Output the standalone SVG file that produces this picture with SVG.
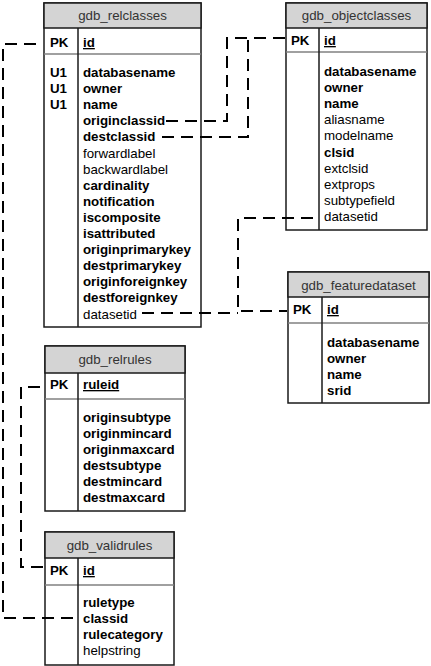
<svg xmlns="http://www.w3.org/2000/svg" width="431" height="666" viewBox="0 0 431 666">
<style>
text{font-family:"Liberation Sans",Arial,sans-serif;font-size:13.3px;fill:#000}
.h{fill:#333;text-anchor:middle}
.b{font-weight:bold}
.u{text-decoration:underline}
.box{fill:#fff;stroke:#1a1a1a;stroke-width:1.5}
.hd{fill:#d4d4d4;stroke:#1a1a1a;stroke-width:1.5}
.sep{stroke:#808080;stroke-width:1.5}
.div{stroke:#1a1a1a;stroke-width:1.5}
.c{fill:none;stroke:#000;stroke-width:2;stroke-dasharray:12 7}
</style>
<rect width="431" height="666" fill="#fff"/>
<g id="gdb_relclasses">
<rect class="box" x="44" y="3" width="157" height="324"/>
<rect class="hd" x="44" y="3" width="157" height="25"/>
<line class="sep" x1="44" y1="54" x2="201" y2="54"/>
<line class="div" x1="78" y1="28" x2="78" y2="327"/>
<text class="h" x="122.5" y="20">gdb_relclasses</text>
<text class="b" x="50" y="47">PK</text>
<text class="b u" x="83" y="47">id</text>
<text class="b" x="50" y="77">U1</text>
<text class="b" x="50" y="93.1">U1</text>
<text class="b" x="50" y="109.2">U1</text>
<text class="b" x="83" y="77">databasename</text>
<text class="b" x="83" y="93.1">owner</text>
<text class="b" x="83" y="109.2">name</text>
<text class="b" x="83" y="125.3">originclassid</text>
<text class="b" x="83" y="141.4">destclassid</text>
<text x="83" y="157.5">forwardlabel</text>
<text x="83" y="173.6">backwardlabel</text>
<text class="b" x="83" y="189.7">cardinality</text>
<text class="b" x="83" y="205.8">notification</text>
<text class="b" x="83" y="221.9">iscomposite</text>
<text class="b" x="83" y="238">isattributed</text>
<text class="b" x="83" y="254.1">originprimarykey</text>
<text class="b" x="83" y="270.2">destprimarykey</text>
<text class="b" x="83" y="286.3">originforeignkey</text>
<text class="b" x="83" y="302.4">destforeignkey</text>
<text x="83" y="318.5">datasetid</text>
</g>
<g id="gdb_objectclasses">
<rect class="box" x="286" y="3" width="141" height="227"/>
<rect class="hd" x="286" y="3" width="141" height="25"/>
<line class="sep" x1="286" y1="52" x2="427" y2="52"/>
<line class="div" x1="319" y1="28" x2="319" y2="230"/>
<text class="h" x="356.5" y="20">gdb_objectclasses</text>
<text class="b" x="291" y="45">PK</text>
<text class="b u" x="324" y="45">id</text>
<text class="b" x="324" y="76">databasename</text>
<text class="b" x="324" y="92.1">owner</text>
<text class="b" x="324" y="108.2">name</text>
<text x="324" y="124.3">aliasname</text>
<text x="324" y="140.4">modelname</text>
<text class="b" x="324" y="156.5">clsid</text>
<text x="324" y="172.6">extclsid</text>
<text x="324" y="188.7">extprops</text>
<text x="324" y="204.8">subtypefield</text>
<text x="324" y="220.9">datasetid</text>
</g>
<g id="gdb_featuredataset">
<rect class="box" x="288" y="272" width="141" height="131"/>
<rect class="hd" x="288" y="272" width="141" height="25"/>
<line class="sep" x1="288" y1="323" x2="429" y2="323"/>
<line class="div" x1="322" y1="297" x2="322" y2="403"/>
<text class="h" x="358.5" y="290">gdb_featuredataset</text>
<text class="b" x="293" y="314">PK</text>
<text class="b u" x="327" y="314">id</text>
<text class="b" x="327" y="347">databasename</text>
<text class="b" x="327" y="363">owner</text>
<text class="b" x="327" y="379">name</text>
<text class="b" x="327" y="395">srid</text>
</g>
<g id="gdb_relrules">
<rect class="box" x="45" y="346" width="140" height="165"/>
<rect class="hd" x="45" y="346" width="140" height="27"/>
<line class="sep" x1="45" y1="399" x2="185" y2="399"/>
<line class="div" x1="78" y1="373" x2="78" y2="511"/>
<text class="h" x="115" y="364">gdb_relrules</text>
<text class="b" x="50" y="389">PK</text>
<text class="b u" x="83" y="389">ruleid</text>
<text class="b" x="83" y="422">originsubtype</text>
<text class="b" x="83" y="438">originmincard</text>
<text class="b" x="83" y="454">originmaxcard</text>
<text class="b" x="83" y="470">destsubtype</text>
<text class="b" x="83" y="486">destmincard</text>
<text class="b" x="83" y="502">destmaxcard</text>
</g>
<g id="gdb_validrules">
<rect class="box" x="45" y="532" width="129" height="133"/>
<rect class="hd" x="45" y="532" width="129" height="26"/>
<line class="sep" x1="45" y1="585" x2="174" y2="585"/>
<line class="div" x1="78" y1="558" x2="78" y2="665"/>
<text class="h" x="109.5" y="550">gdb_validrules</text>
<text class="b" x="50" y="575">PK</text>
<text class="b u" x="83" y="575">id</text>
<text class="b" x="83" y="607">ruletype</text>
<text class="b" x="83" y="623">classid</text>
<text class="b" x="83" y="639">rulecategory</text>
<text x="83" y="655">helpstring</text>
</g>
<g id="connectors">
<path class="c" d="M36 44 H3 V618 H74"/>
<path class="c" d="M40 387 H21 V567 H44"/>
<path class="c" d="M166 121 H227 V38 H285"/>
<path class="c" d="M162 137 H248 V38"/>
<path class="c" d="M313 218 H238 V311 H287"/>
<path class="c" d="M142 313 H238"/>
</g>
</svg>
